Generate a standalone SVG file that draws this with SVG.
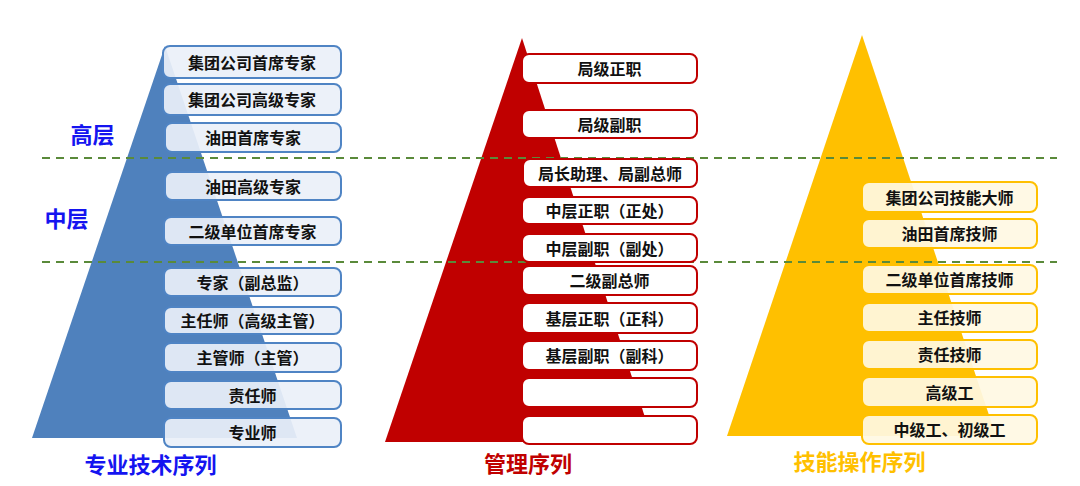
<svg xmlns="http://www.w3.org/2000/svg" width="1080" height="486" viewBox="0 0 1080 486">
<style>
  .t{font-family:"Noto Sans CJK SC","Noto Sans",sans-serif;font-weight:bold;font-size:16px;fill:#111;text-anchor:middle;dominant-baseline:central}
  .lbl{font-family:"Noto Sans CJK SC","Noto Sans",sans-serif;font-weight:bold;font-size:22px;text-anchor:middle;dominant-baseline:central}
  .bb rect{fill:#eaf0f8;fill-opacity:0.92;stroke:#4f84c4;stroke-width:2}
  .rb rect{fill:#ffffff;stroke:#c00000;stroke-width:2}
  .yb rect{fill:#fff8e3;fill-opacity:0.92;stroke:#ffc000;stroke-width:2}
  .dash{stroke:#5a8a3a;stroke-width:1.8;stroke-dasharray:8 6;fill:none}
</style>
<rect width="1080" height="486" fill="#ffffff"/>
<!-- pyramids -->
<polygon points="165,46 32,438 297,438" fill="#4f81bd"/>
<polygon points="522,38 385,442 653,442" fill="#c00000"/>
<polygon points="862,35 727,436 996,436" fill="#ffc000"/>
<!-- dashed separators -->
<line class="dash" x1="42" y1="158" x2="1057" y2="158"/>
<line class="dash" x1="42" y1="262" x2="1057" y2="262"/>
<!-- level labels -->
<text class="lbl" x="92.5" y="133" fill="#1414f0">高层</text>
<text class="lbl" x="66.5" y="217" fill="#1414f0">中层</text>
<text class="lbl" x="150.5" y="463" fill="#1414f0">专业技术序列</text>
<text class="lbl" x="528" y="462" fill="#c00000">管理序列</text>
<text class="lbl" x="859.5" y="460" fill="#ffc000">技能操作序列</text>
<g id="connectors"/>
<!-- blue boxes -->
<g class="bb">
  <g id="b1"><rect x="163" y="46" width="178" height="32" rx="7"/><text class="t" x="252" y="61.5">集团公司首席专家</text></g>
  <g id="b2"><rect x="163" y="84" width="178" height="31" rx="7"/><text class="t" x="252" y="99">集团公司高级专家</text></g>
  <g id="b3"><rect x="165" y="123" width="176" height="29" rx="7"/><text class="t" x="253" y="137">油田首席专家</text></g>
  <g id="b4"><rect x="165" y="172" width="176" height="28" rx="7"/><text class="t" x="253" y="185.5">油田高级专家</text></g>
  <g id="b5"><rect x="164" y="217" width="177" height="28" rx="7"/><text class="t" x="252.5" y="230.5">二级单位首席专家</text></g>
  <g id="b6"><rect x="164" y="268" width="177" height="28" rx="7"/><text class="t" x="252.5" y="281.5">专家（副总监）</text></g>
  <g id="b7"><rect x="164" y="307" width="177" height="27" rx="7"/><text class="t" x="252.5" y="320">主任师（高级主管）</text></g>
  <g id="b8"><rect x="164" y="343" width="177" height="29" rx="7"/><text class="t" x="252.5" y="357">主管师（主管）</text></g>
  <g id="b9"><rect x="164" y="381" width="177" height="28" rx="7"/><text class="t" x="252.5" y="394.5">责任师</text></g>
  <g id="b10"><rect x="164" y="418" width="177" height="29" rx="7"/><text class="t" x="252.5" y="432">专业师</text></g>
</g>
<!-- red boxes -->
<g class="rb">
  <g id="r1"><rect x="522" y="54" width="175" height="29" rx="7"/><text class="t" x="609.5" y="68">局级正职</text></g>
  <g id="r2"><rect x="522" y="110" width="175" height="28" rx="7"/><text class="t" x="609.5" y="123.5">局级副职</text></g>
  <g id="r3"><rect x="523" y="159" width="174" height="28" rx="7"/><text class="t" x="610" y="172.5">局长助理、局副总师</text></g>
  <g id="r4"><rect x="522" y="197" width="175" height="27" rx="7"/><text class="t" x="609.5" y="210">中层正职（正处）</text></g>
  <g id="r5"><rect x="522" y="234" width="175" height="28" rx="7"/><text class="t" x="609.5" y="247.5">中层副职（副处）</text></g>
  <g id="r6"><rect x="522" y="266" width="175" height="29" rx="7"/><text class="t" x="609.5" y="280">二级副总师</text></g>
  <g id="r7"><rect x="522" y="303" width="175" height="30" rx="7"/><text class="t" x="609.5" y="317.5">基层正职（正科）</text></g>
  <g id="r8"><rect x="522" y="341" width="175" height="29" rx="7"/><text class="t" x="609.5" y="355">基层副职（副科）</text></g>
  <g id="r9"><rect x="522" y="378" width="175" height="29" rx="7"/></g>
  <g id="r10"><rect x="522" y="416" width="175" height="28" rx="7"/></g>
</g>
<!-- yellow boxes -->
<g class="yb">
  <g id="y1"><rect x="862" y="182" width="175" height="30" rx="7"/><text class="t" x="949.5" y="196.5">集团公司技能大师</text></g>
  <g id="y2"><rect x="862" y="219" width="175" height="29" rx="7"/><text class="t" x="949.5" y="233">油田首席技师</text></g>
  <g id="y3"><rect x="862" y="265" width="175" height="29" rx="7"/><text class="t" x="949.5" y="279">二级单位首席技师</text></g>
  <g id="y4"><rect x="862" y="303" width="175" height="29" rx="7"/><text class="t" x="949.5" y="317">主任技师</text></g>
  <g id="y5"><rect x="862" y="340" width="175" height="29" rx="7"/><text class="t" x="949.5" y="354">责任技师</text></g>
  <g id="y6"><rect x="862" y="377" width="175" height="30" rx="7"/><text class="t" x="949.5" y="391.5">高级工</text></g>
  <g id="y7"><rect x="862" y="415" width="175" height="29" rx="7"/><text class="t" x="949.5" y="429">中级工、初级工</text></g>
</g>
</svg>
